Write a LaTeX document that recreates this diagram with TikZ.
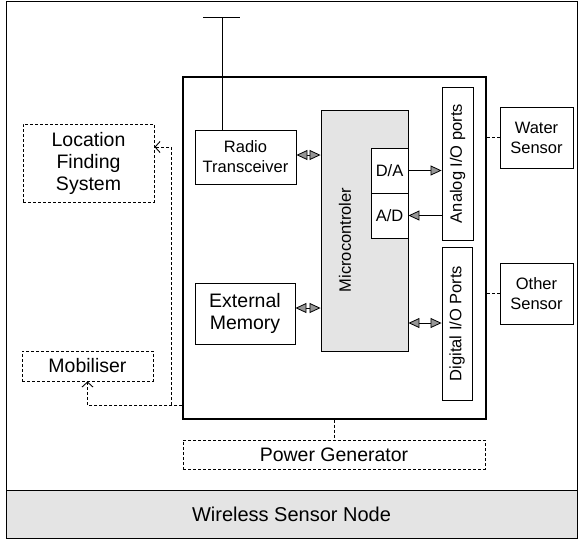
\documentclass[tikz,border=0pt]{standalone}
\usepackage{fontspec}
\setmainfont{Liberation Sans}
\usepackage{tikz}
\usetikzlibrary{positioning,calc,arrows.meta}
\definecolor{dotgray}{RGB}{228,228,228}
\definecolor{tipgray}{RGB}{150,150,150}

\begin{document}
\begin{tikzpicture}[x=1pt,y=-1pt,
  blk/.style={draw,line width=0.9pt,align=center,inner sep=0pt,
              font=\fontsize{16.5}{20}\selectfont},
  bigblk/.style={blk,font=\fontsize{19.5}{22}\selectfont},
  dashblk/.style={bigblk,dash pattern=on 3pt off 2pt},
  vblk/.style={blk,rotate=90},
  dsh/.style={line width=0.9pt,dash pattern=on 3pt off 2pt},
  opn/.style={dsh,-{Straight Barb[length=5pt,width=11pt]}},
  tip/.style={line width=0.8pt,-{Triangle[length=11pt,width=10pt,fill=tipgray]}},
  dbl/.style={line width=0.8pt,{Triangle[length=11pt,width=10pt,fill=tipgray]}-{Triangle[length=11pt,width=10pt,fill=tipgray]}}]
  \useasboundingbox (0,0) rectangle (578,542);
  % outer frame and title band
  \node[draw,line width=1pt,inner sep=0pt,minimum width=571pt,minimum height=537pt] (frame) at (291.5,269.5) {};
  \node[draw,fill=dotgray,line width=1pt,inner sep=0pt,minimum width=571pt,minimum height=48pt,
        font=\fontsize{20}{24}\selectfont] (wsn) at (291.5,514) {Wireless Sensor Node};
  % node board
  \node[draw,line width=1.1pt,inner sep=0pt,minimum width=303pt,minimum height=342pt] (board) at (334.5,248) {};
  \node[blk,minimum width=101pt,minimum height=54pt] (radio) at (245.5,157) {Radio\\Transceiver};
  \node[bigblk,minimum width=100pt,minimum height=61pt] (mem) at (245,313.5) {External\\Memory};
  \node[blk,fill=dotgray,minimum width=87pt,minimum height=241pt] (mcu) at (364.5,230.5) {};
  \node[rotate=90,inner sep=0pt,font=\fontsize{16.5}{20}\selectfont] (mcutxt) at (345,240) {Microcontroler};
  \node[blk,fill=white,minimum width=37pt,minimum height=45pt] (da) at (389.5,170.5) {D/A};
  \node[blk,fill=white,minimum width=37pt,minimum height=45pt] (ad) at (389.5,215.5) {A/D};
  \node[vblk,minimum width=153pt,minimum height=31pt] (analog) at (457.5,163.5) {Analog I/O ports};
  \node[vblk,minimum width=153pt,minimum height=30pt] (digital) at (457,323.5) {Digital I/O Ports};
  % outside blocks
  \node[blk,minimum width=73pt,minimum height=61pt] (water) at (536.5,137.5) {Water\\Sensor};
  \node[blk,minimum width=73pt,minimum height=61pt] (other) at (536.5,293.5) {Other\\Sensor};
  \node[dashblk,minimum width=131pt,minimum height=78pt] (loc) at (88.5,163) {Location\\Finding\\System};
  \node[dashblk,minimum width=131pt,minimum height=30pt] (mob) at (87.5,366) {Mobiliser};
  \node[dashblk,minimum width=302pt,minimum height=29pt] (power) at (334,454.5) {Power Generator};
  % antenna
  \coordinate (ant) at (222,17);
  \draw[line width=0.9pt] ([xshift=-19pt]ant) -- ([xshift=18pt]ant);
  \draw[line width=0.9pt] (ant) -- (ant |- radio.north);
  % data paths
  \draw[dbl] (radio.east |- 0,155) -- (mcu.west |- 0,155);
  \draw[dbl] (mem.east |- 0,308) -- (mcu.west |- 0,308);
  \draw[tip] (da.east) -- (da.east -| analog.north);
  \draw[tip] (ad.east -| analog.north) -- (ad.east);
  \draw[dbl] (digital.north |- 0,323) -- (mcu.east |- 0,323);
  % sensors, power, mobility
  \draw[dsh] (water.west) -- (water.west -| board.east);
  \draw[dsh] (other.west) -- (other.west -| board.east);
  \draw[dsh] (board.south) -- (board.south |- power.north);
  \coordinate (split) at (171,405);
  \draw[opn] (split -| board.west) -| (mob.south);
  \draw[opn] (split) |- ([yshift=16pt]loc.east);
\end{tikzpicture}
\end{document}
